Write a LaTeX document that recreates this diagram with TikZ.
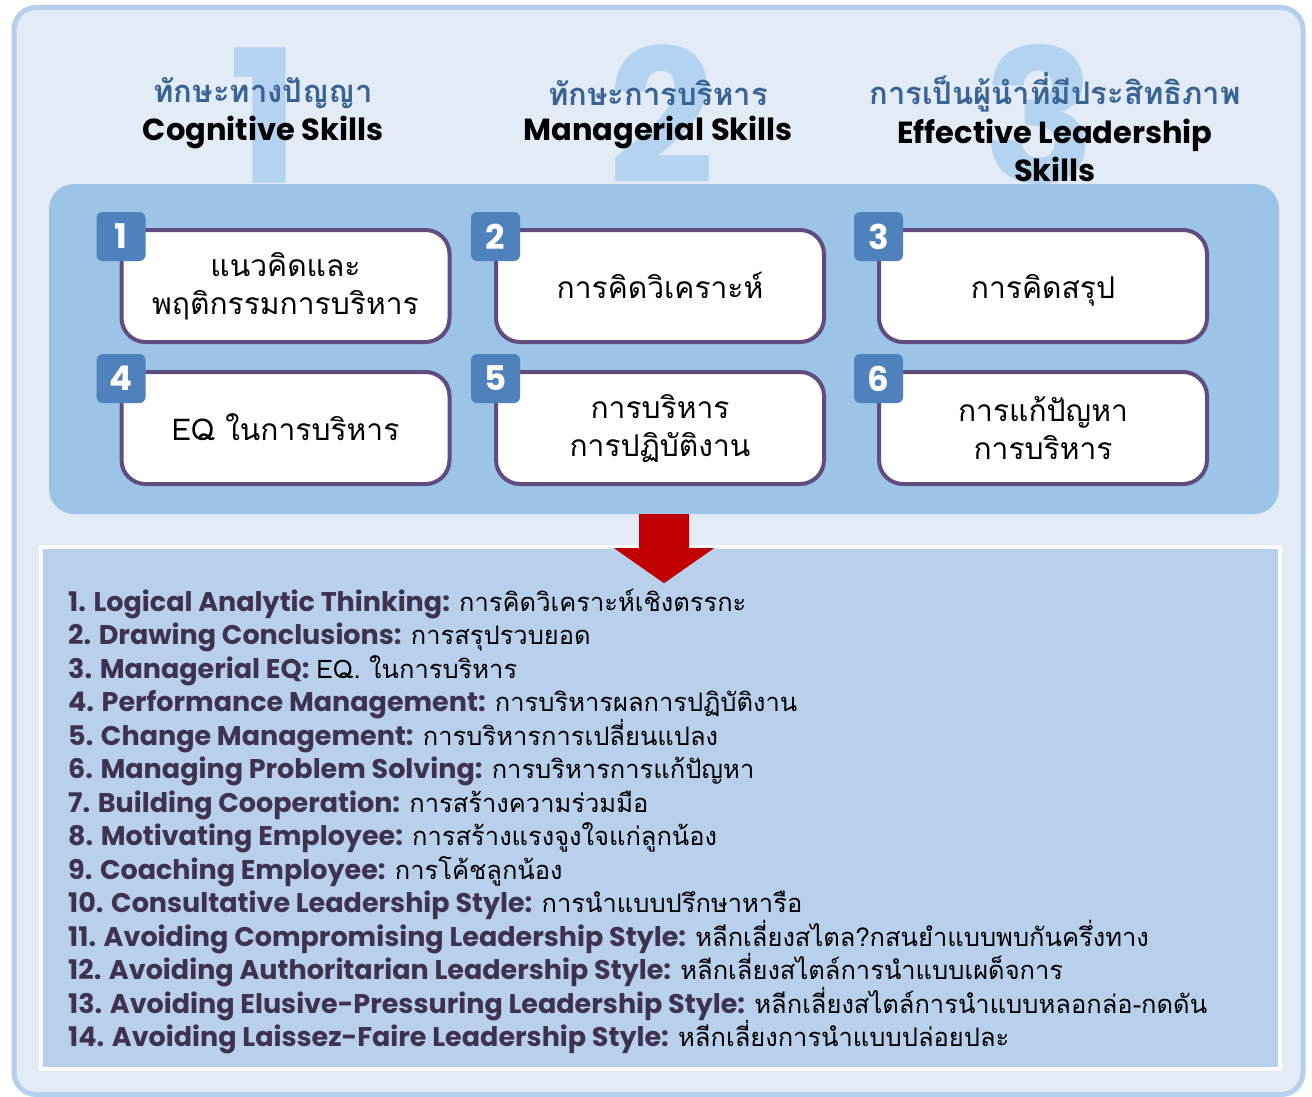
\documentclass[tikz,border=0pt]{standalone}
\usepackage{fontspec}
\setmainfont{Poppins}
\newfontfamily\thaifont[Script=Thai]{Loma}
\newfontfamily\popfont{Poppins}
\usetikzlibrary{calc}
\definecolor{bgfill}{HTML}{E3EBF7}
\definecolor{bgborder}{HTML}{B6CFEC}
\definecolor{panelc}{HTML}{9CC4E6}
\definecolor{bigdig}{HTML}{B3D3F0}
\definecolor{badgec}{HTML}{4F81BD}
\definecolor{boxborder}{HTML}{604C7E}
\definecolor{headblue}{HTML}{3A6496}
\definecolor{arrowred}{HTML}{C00000}
\definecolor{listfill}{HTML}{B8D0EC}
\definecolor{latcol}{HTML}{3E3152}
\tikzset{
  outerbox/.style={draw=bgborder, line width=5pt, fill=bgfill, rounded corners=22pt, inner sep=0pt},
  bigdigit/.style={anchor=base, inner sep=0pt, text=bigdig, font=\popfont\bfseries\fontsize{186}{186}\selectfont},
  headth/.style={inner sep=0pt, text=headblue, font=\thaifont\bfseries\fontsize{31}{36}\selectfont},
  headen/.style={inner sep=0pt, text=black, align=center, font=\popfont\bfseries\fontsize{30.5}{38}\selectfont},
  panelbox/.style={fill=panelc, rounded corners=25pt, inner sep=0pt, minimum width=1230pt, minimum height=330pt},
  skillbox/.style={draw=boxborder, line width=4pt, fill=white, rounded corners=24pt, minimum width=328pt, minimum height=112pt, inner sep=0pt, align=center, font=\thaifont\fontsize{30}{38}\selectfont},
  oneline/.style={text height=24pt, text depth=0pt},
  badge/.style={fill=badgec, rounded corners=6pt, minimum size=49pt, inner sep=0pt, text=white, font=\popfont\bfseries\fontsize{34}{34}\selectfont},
  listbox/.style={draw=white, line width=4.5pt, fill=listfill, minimum width=1239pt, minimum height=522pt, inner sep=0pt},
  listitem/.style={anchor=base west, inner sep=0pt, font=\popfont\fontsize{26}{30}\selectfont},
}
\newcommand\latpart[1]{{\popfont\bfseries\fontsize{27}{30}\selectfont\color{latcol}#1}}
\newcommand\thpart[1]{{\thaifont\fontsize{25.5}{30}\selectfont #1}}
\begin{document}
\begin{tikzpicture}[x=1pt,y=-1pt]
\useasboundingbox (0,0) rectangle (1312,1097);
\node[outerbox, minimum width=1289pt, minimum height=1087pt] (outer) at (658.5,551) {};
% big background digits
\node[bigdigit] (d1) at (264,183) {1};
\node[bigdigit] (d2) at (662,183) {2};
\node[bigdigit] (d3) at (1040,183) {3};
% panel
\node[panelbox] (panel) at (664,349) {};
% headings
\node[headth] (h1t) at (263,93) {ทักษะทางปัญญา};
\node[headen] (h1e) at (263,132) {Cognitive Skills};
\node[headth] (h2t) at (658,93) {ทักษะการบริหาร};
\node[headen] (h2e) at (658,132) {Managerial Skills};
\node[headth] (h3t) at (1055,92) {การเป็นผู้นำที่มีประสิทธิภาพ};
\node[headen] (h3e) at (1055,150) {Effective Leadership\\Skills};
% skill boxes
\node[skillbox] (b1) at (285.5,286) {แนวคิดและ\\พฤติกรรมการบริหาร};
\node[skillbox, oneline] (b2) at (660,286) {การคิดวิเคราะห์};
\node[skillbox, oneline] (b3) at (1043,286) {การคิดสรุป};
\node[skillbox, oneline] (b4) at (285.5,428) {EQ ในการบริหาร};
\node[skillbox] (b5) at (660,428) {การบริหาร\\การปฏิบัติงาน};
\node[skillbox] (b6) at (1043,428) {การแก้ปัญหา\\การบริหาร};
\foreach \i in {1,...,6} {
  \node[badge] (n\i) at ($(b\i.north west)+(1.5,8.5)$) {\i};
}
% list box
\node[listbox] (list) at (660.5,808) {};
% arrow
\fill[arrowred] ($(panel.south)+(-25,0)$) -- ($(panel.south)+(25,0)$) -- ($(panel.south)+(25,34)$)
  -- ($(panel.south)+(50,34)$) -- ($(panel.south)+(0,69)$) -- ($(panel.south)+(-50,34)$)
  -- ($(panel.south)+(-25,34)$) -- cycle;
% list items
\node[listitem] (l1) at (68,611) {\latpart{1. Logical Analytic Thinking:} \thpart{การคิดวิเคราะห์เชิงตรรกะ}};
\node[listitem] (l2) at (68,644.5) {\latpart{2. Drawing Conclusions:} \thpart{การสรุปรวบยอด}};
\node[listitem] (l3) at (68,678) {\latpart{3. Managerial EQ:} \thpart{EQ. ในการบริหาร}};
\node[listitem] (l4) at (68,711.5) {\latpart{4. Performance Management:} \thpart{การบริหารผลการปฏิบัติงาน}};
\node[listitem] (l5) at (68,745) {\latpart{5. Change Management:} \thpart{การบริหารการเปลี่ยนแปลง}};
\node[listitem] (l6) at (68,778.5) {\latpart{6. Managing Problem Solving:} \thpart{การบริหารการแก้ปัญหา}};
\node[listitem] (l7) at (68,812) {\latpart{7. Building Cooperation:} \thpart{การสร้างความร่วมมือ}};
\node[listitem] (l8) at (68,845.5) {\latpart{8. Motivating Employee:} \thpart{การสร้างแรงจูงใจแก่ลูกน้อง}};
\node[listitem] (l9) at (68,879) {\latpart{9. Coaching Employee:} \thpart{การโค้ชลูกน้อง}};
\node[listitem] (l10) at (68,912.5) {\latpart{10. Consultative Leadership Style:} \thpart{การนำแบบปรึกษาหารือ}};
\node[listitem] (l11) at (68,946) {\latpart{11. Avoiding Compromising Leadership Style:} \thpart{หลีกเลี่ยงสไตล?กสนยำแบบพบกันครึ่งทาง}};
\node[listitem] (l12) at (68,979.5) {\latpart{12. Avoiding Authoritarian Leadership Style:} \thpart{หลีกเลี่ยงสไตล์การนำแบบเผด็จการ}};
\node[listitem] (l13) at (68,1013) {\latpart{13. Avoiding Elusive-Pressuring Leadership Style:} \thpart{หลีกเลี่ยงสไตล์การนำแบบหลอกล่อ-กดดัน}};
\node[listitem] (l14) at (68,1046.5) {\latpart{14. Avoiding Laissez-Faire Leadership Style:} \thpart{หลีกเลี่ยงการนำแบบปล่อยปละ}};
\end{tikzpicture}
\end{document}
